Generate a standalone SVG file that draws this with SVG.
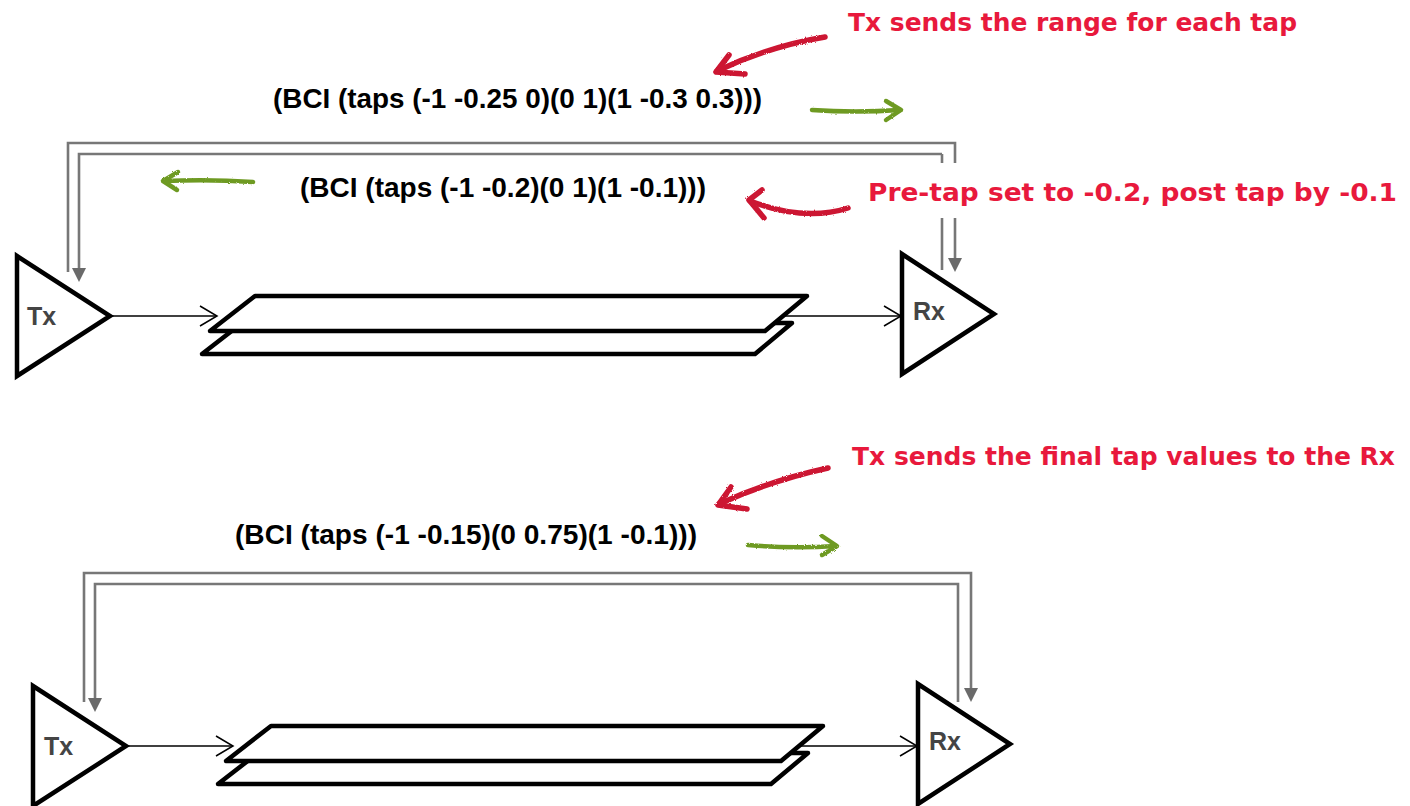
<svg xmlns="http://www.w3.org/2000/svg" width="1410" height="806" viewBox="0 0 1410 806">
<style>
.tri{fill:#fff;stroke:#000;stroke-width:4.5;stroke-linejoin:miter}
.slab{fill:#fff;stroke:#000;stroke-width:4.5;stroke-linejoin:round}
.lbl{font-family:"Liberation Sans",Arial,sans-serif;font-weight:bold;font-size:25px;fill:#444}
.msg{font-family:"Liberation Sans",Arial,sans-serif;font-weight:bold;font-size:28px;fill:#000}
.note{font-family:"DejaVu Sans","Noto Sans",sans-serif;font-weight:bold;font-size:25px;fill:#e8193c}
.wire{fill:none;stroke:#000;stroke-width:1.5}
.head{fill:none;stroke:#000;stroke-width:1.5}
.fb{fill:none;stroke:#777;stroke-width:2.6}
.fbh{fill:#6a6a6a}
.red{fill:none;stroke:#cc1432;stroke-width:5.5;stroke-linecap:round;stroke-linejoin:round}
.grn{fill:none;stroke:#6e9a22;stroke-width:4.5;stroke-linecap:round;stroke-linejoin:round}
</style>
<defs>
<filter id="rough" x="-10%" y="-30%" width="120%" height="160%">
<feTurbulence type="fractalNoise" baseFrequency="0.9" numOctaves="2" result="n"/>
<feDisplacementMap in="SourceGraphic" in2="n" scale="2.5"/>
</filter>
</defs>

<!-- Top diagram -->
<g id="connectors-top">
<line class="wire" x1="111" y1="316" x2="216" y2="316"/>
<polyline class="head" points="200,306 217,316 200,326"/>
<line class="wire" x1="785" y1="316" x2="900" y2="316"/>
<polyline class="head" points="884,306 901,316 884,326"/>
<polyline class="fb" points="68,272 68,143 955,143 955,163"/>
<line class="fb" x1="955" y1="218" x2="955" y2="259"/>
<polygon class="fbh" points="948,258 962,258 955,272"/>
<line class="fb" x1="942" y1="163" x2="942" y2="154"/>
<line class="fb" x1="942" y1="218" x2="942" y2="270"/>
<polyline class="fb" points="942,154 79,154 79,269"/>
<polygon class="fbh" points="72,268 86,268 79,282"/>
</g>
<g id="tx-top">
<polygon class="tri" points="17,256 17,376 110,316"/>
<text class="lbl" x="27" y="325">Tx</text>
</g>
<g id="channel-top">
<polygon class="slab" points="242,323 792,323 755,354 202,354"/>
<polygon class="slab" points="255,296 807,296 765,331 210,331"/>
</g>
<g id="rx-top">
<polygon class="tri" points="902,254 902,374 994,314"/>
<text class="lbl" x="913" y="320">Rx</text>
</g>
<g id="labels-top">
<text class="msg" x="273" y="108" textLength="489" lengthAdjust="spacingAndGlyphs">(BCI (taps (-1 -0.25 0)(0 1)(1 -0.3 0.3)))</text>
<text class="msg" x="300" y="197" textLength="406" lengthAdjust="spacingAndGlyphs">(BCI (taps (-1 -0.2)(0 1)(1 -0.1)))</text>
<text class="note" x="848" y="31" textLength="449" lengthAdjust="spacingAndGlyphs">Tx sends the range for each tap</text>
<text class="note" x="868" y="201" textLength="529" lengthAdjust="spacingAndGlyphs">Pre-tap set to -0.2, post tap by -0.1</text>
</g>
<g id="hand-arrows-top" filter="url(#rough)">
<path class="red" d="M825,37 Q770,46 717,71"/>
<path class="red" d="M729,55 L716,72 L745,74"/>
<path class="red" d="M848,208 Q805,222 750,201"/>
<path class="red" d="M762,190 L749,200 L764,218"/>
<path class="grn" d="M812,110 Q855,113 900,110"/>
<path class="grn" d="M886,101 L901,110 L886,120"/>
<path class="grn" d="M253,182 Q210,179 164,181"/>
<path class="grn" d="M178,172 L163,181 L177,190"/>
</g>

<!-- Bottom diagram -->
<g id="connectors-bottom">
<line class="wire" x1="127" y1="746" x2="232" y2="746"/>
<polyline class="head" points="216,736 233,746 216,756"/>
<line class="wire" x1="801" y1="746" x2="916" y2="746"/>
<polyline class="head" points="900,736 917,746 900,756"/>
<polyline class="fb" points="84,702 84,573 971,573 971,689"/>
<polygon class="fbh" points="964,688 978,688 971,702"/>
<polyline class="fb" points="958,702 958,584 95,584 95,699"/>
<polygon class="fbh" points="88,698 102,698 95,712"/>
</g>
<g id="tx-bottom">
<polygon class="tri" points="33,686 33,806 126,746"/>
<text class="lbl" x="44" y="755">Tx</text>
</g>
<g id="channel-bottom">
<polygon class="slab" points="258,753 808,753 771,784 218,784"/>
<polygon class="slab" points="271,726 823,726 781,761 226,761"/>
</g>
<g id="rx-bottom">
<polygon class="tri" points="918,684 918,804 1010,744"/>
<text class="lbl" x="929" y="750">Rx</text>
</g>
<g id="labels-bottom">
<text class="msg" x="235" y="544" textLength="462" lengthAdjust="spacingAndGlyphs">(BCI (taps (-1 -0.15)(0 0.75)(1 -0.1)))</text>
<text class="note" x="852" y="465" textLength="543" lengthAdjust="spacingAndGlyphs">Tx sends the final tap values to the Rx</text>
</g>
<g id="hand-arrows-bottom" filter="url(#rough)">
<path class="red" d="M828,468 Q772,480 719,504"/>
<path class="red" d="M731,487 L718,505 L747,509"/>
<path class="grn" d="M748,545 Q792,549 836,546"/>
<path class="grn" d="M822,536 L837,546 L822,555"/>
</g>
</svg>
